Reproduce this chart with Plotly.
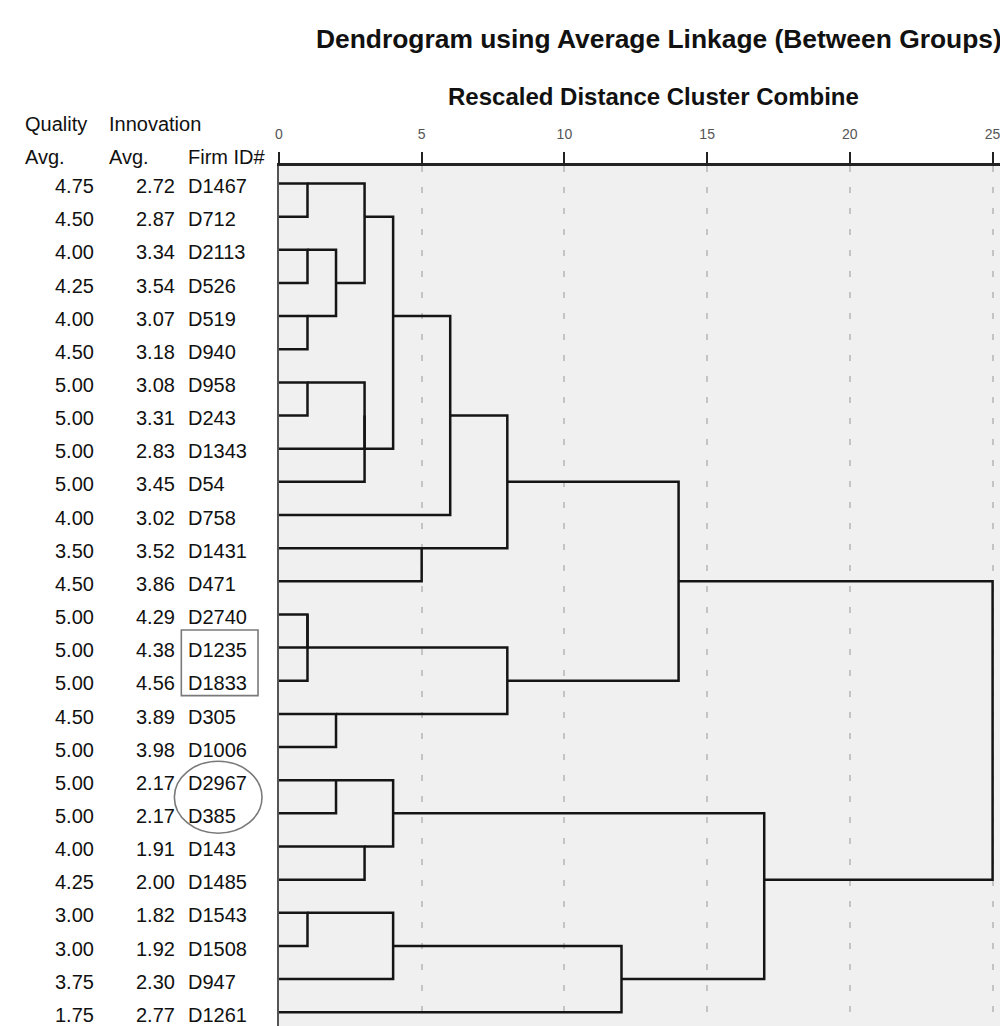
import plotly.graph_objects as go

# ---------------- data ----------------
firm_ids = ["D1467", "D712", "D2113", "D526", "D519", "D940", "D958", "D243",
            "D1343", "D54", "D758", "D1431", "D471", "D2740", "D1235", "D1833",
            "D305", "D1006", "D2967", "D385", "D143", "D1485", "D1543", "D1508",
            "D947", "D1261"]
quality_avg = [4.75, 4.50, 4.00, 4.25, 4.00, 4.50, 5.00, 5.00, 5.00, 5.00, 4.00,
               3.50, 4.50, 5.00, 5.00, 5.00, 4.50, 5.00, 5.00, 5.00, 4.00, 4.25,
               3.00, 3.00, 3.75, 1.75]
innovation_avg = [2.72, 2.87, 3.34, 3.54, 3.07, 3.18, 3.08, 3.31, 2.83, 3.45, 3.02,
                  3.52, 3.86, 4.29, 4.38, 4.56, 3.89, 3.98, 2.17, 2.17, 1.91, 2.00,
                  1.82, 1.92, 2.30, 2.77]

# agglomeration schedule: (cluster a, cluster b, rescaled distance)
# leaves are 0..25 in display order; each merge creates cluster 26, 27, ...
merge_a = [0, 2, 4, 6, 13, 30, 22, 27, 16, 18, 26, 29, 37, 20, 36, 35, 32, 11, 40, 44, 31, 42, 45, 41, 48]
merge_b = [1, 3, 5, 7, 14, 15, 23, 28, 17, 19, 33, 8, 9, 21, 38, 39, 24, 12, 10, 43, 34, 25, 46, 47, 49]
merge_dist = [1, 1, 1, 1, 1, 1, 1, 2, 2, 2, 3, 3, 3, 3, 4, 4, 4, 5, 6, 8, 8, 12, 14, 17, 25]

x_ticks = [0, 5, 10, 15, 20, 25]
title_text = "Dendrogram using Average Linkage (Between Groups)"
axis_title = "Rescaled Distance Cluster Combine"
highlight_box_rows = [14, 15]
highlight_circle_rows = [18, 19]

# ---------------- build dendrogram paths ----------------
n = len(firm_ids)
rows = {i: i for i in range(n)}
heights = {i: 0 for i in range(n)}
xs, ys = [], []
for k, (a, b, d) in enumerate(zip(merge_a, merge_b, merge_dist)):
    ra, rb = rows[a], rows[b]
    xs += [heights[a], d, d, heights[b], None]
    ys += [ra, ra, rb, rb, None]
    new = n + k
    rows[new] = (ra + rb) // 2
    heights[new] = d

# ---------------- layout geometry ----------------
W, H = 1008, 1026
x0_px, px_per_unit = 268, 28.66
row0_px, row_px = 175.5, 33.15
plot_top_px = 158

x_max = (W - x0_px) / px_per_unit
y_top = (plot_top_px - row0_px) / row_px
y_bot = (H - row0_px) / row_px

fig = go.Figure()
fig.add_trace(go.Scatter(x=xs, y=ys, mode="lines",
                         line=dict(color="#151515", width=2.5),
                         hoverinfo="skip", showlegend=False))

font_family = "Liberation Sans, Arial, sans-serif"
ann = []
txt_off = 0.08
for i in range(n):
    ann.append(dict(x=84 / W, xref="paper", y=i + txt_off, yref="y",
                    text=f"{quality_avg[i]:.2f}", xanchor="right", yanchor="middle",
                    showarrow=False, font=dict(size=20, color="#111")))
    ann.append(dict(x=166 / W, xref="paper", y=i + txt_off, yref="y",
                    text=f"{innovation_avg[i]:.2f}", xanchor="right", yanchor="middle",
                    showarrow=False, font=dict(size=20, color="#111")))
    ann.append(dict(x=175 / W, xref="paper", y=i + txt_off, yref="y",
                    text=firm_ids[i], xanchor="left", yanchor="middle",
                    showarrow=False, font=dict(size=20, color="#111")))

headers = [("Quality", 11, 116), ("Innovation", 95, 116),
           ("Avg.", 11, 149), ("Avg.", 95, 149), ("Firm ID#", 175, 149)]
for t, xp, yp in headers:
    ann.append(dict(x=xp / W, xref="paper", y=1 - yp / H, yref="paper", text=t,
                    xanchor="left", yanchor="middle", showarrow=False,
                    font=dict(size=20, color="#111")))

ann.append(dict(x=650 / W, xref="paper", y=1 - 31 / H, yref="paper",
                text=f"<b>{title_text}</b>", showarrow=False,
                xanchor="center", yanchor="middle", font=dict(size=26.4, color="#111")))
ann.append(dict(x=644 / W, xref="paper", y=1 - 88 / H, yref="paper",
                text=f"<b>{axis_title}</b>", showarrow=False,
                xanchor="center", yanchor="middle", font=dict(size=24, color="#111")))

shapes = [
    dict(type="rect", xref="paper", yref="y", x0=170 / W, x1=247 / W,
         y0=highlight_box_rows[0] - 0.53, y1=highlight_box_rows[-1] + 0.45,
         line=dict(color="#7a7a7a", width=1.6)),
    dict(type="circle", xref="paper", yref="y", x0=163 / W, x1=251 / W,
         y0=highlight_circle_rows[0] - 0.57, y1=highlight_circle_rows[-1] + 0.6,
         line=dict(color="#7a7a7a", width=1.6)),
]

fig.update_layout(
    width=W, height=H,
    margin=dict(l=0, r=0, t=0, b=0),
    paper_bgcolor="white", plot_bgcolor="#f0f0f0",
    font=dict(family=font_family),
    annotations=ann, shapes=shapes,
    xaxis=dict(domain=[x0_px / W, 1], range=[0, x_max], side="top",
               tickvals=x_ticks, ticktext=[str(v) for v in x_ticks],
               tickfont=dict(size=14, color="#555"),
               ticks="outside", ticklen=11, tickwidth=2, tickcolor="#222",
               ticklabelstandoff=8,
               showline=True, linecolor="#222", linewidth=2.5,
               showgrid=True, gridcolor="#c4c4c4", gridwidth=1.5,
               griddash="6px,15px", zeroline=False, fixedrange=True),
    yaxis=dict(domain=[0, 1 - plot_top_px / H], range=[y_bot, y_top],
               showticklabels=False, ticks="", showgrid=False, zeroline=False,
               showline=True, linecolor="#555", linewidth=2, fixedrange=True),
)

fig.write_html("out.html")
